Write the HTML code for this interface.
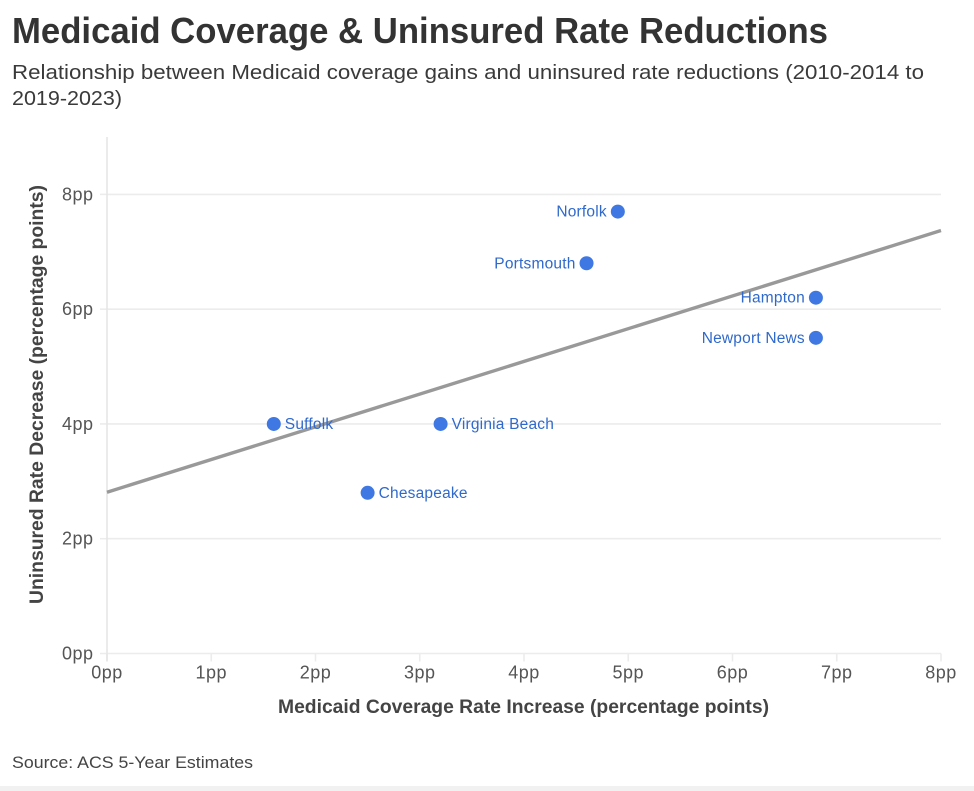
<!DOCTYPE html>
<html lang="en">
<head>
<meta charset="utf-8">
<title>Medicaid Coverage &amp; Uninsured Rate Reductions</title>
<style>
html,body{margin:0;padding:0;background:#fff;width:974px;height:791px;overflow:hidden}
svg{display:block;font-family:"Liberation Sans",sans-serif}
</style>
</head>
<body>
<svg id="chart" width="974" height="791" viewBox="0 0 974 791" xmlns="http://www.w3.org/2000/svg">
  <rect width="974" height="791" fill="#fff"/>
  <rect y="786" width="974" height="5" fill="#f1f1f1"/>
  <text x="12" y="43" font-size="36" font-weight="700" fill="#333" textLength="816" lengthAdjust="spacingAndGlyphs">Medicaid Coverage &amp; Uninsured Rate Reductions</text>
  <text x="12" y="79" font-size="20" fill="#3a3a3a" textLength="912" lengthAdjust="spacingAndGlyphs">Relationship between Medicaid coverage gains and uninsured rate reductions (2010-2014 to</text>
  <text x="12" y="105" font-size="20" fill="#3a3a3a" textLength="110" lengthAdjust="spacingAndGlyphs">2019-2023)</text>
  <g id="grid"></g>
  <g id="x-axis"></g>
  <g id="y-axis"></g>
  <g id="trend"></g>
  <g id="points"></g>
  <text x="523.5" y="713" font-size="19" font-weight="700" fill="#444" text-anchor="middle" textLength="491" lengthAdjust="spacingAndGlyphs">Medicaid Coverage Rate Increase (percentage points)</text>
  <text transform="translate(43,394.5) rotate(-90)" font-size="19" font-weight="700" fill="#444" text-anchor="middle" textLength="419" lengthAdjust="spacingAndGlyphs">Uninsured Rate Decrease (percentage points)</text>
  <text x="12" y="768" font-size="17" fill="#444" textLength="241" lengthAdjust="spacingAndGlyphs">Source: ACS 5-Year Estimates</text>
</svg>
<script>
const cities = ["Suffolk", "Chesapeake", "Virginia Beach", "Portsmouth", "Norfolk", "Hampton", "Newport News"];
const medicaidIncrease = [1.6, 2.5, 3.2, 4.6, 4.9, 6.8, 6.8];
const uninsuredDecrease = [4.0, 2.8, 4.0, 6.8, 7.7, 6.2, 5.5];
const labelSides = ["right", "right", "right", "left", "left", "left", "left"];
const xTickValues = [0, 1, 2, 3, 4, 5, 6, 7, 8];
const yTickValues = [0, 2, 4, 6, 8];
const trendX = [0, 8];
const trendY = [2.81, 7.37];
const tickSuffix = "pp";

const NS = "http://www.w3.org/2000/svg";
const plot = {left: 107, right: 941, bottom: 653.5, top: 137};
const xDomainMax = 8;
const yDomainMax = 9;
function xScale(v) { return plot.left + (v / xDomainMax) * (plot.right - plot.left); }
function yScale(v) { return plot.bottom - (v / yDomainMax) * (plot.bottom - plot.top); }
function make(tag, attrs, parent) {
  const el = document.createElementNS(NS, tag);
  Object.keys(attrs).forEach(function (k) { el.setAttribute(k, attrs[k]); });
  parent.appendChild(el);
  return el;
}

const gridG = document.getElementById("grid");
const xAxisG = document.getElementById("x-axis");
const yAxisG = document.getElementById("y-axis");
const trendG = document.getElementById("trend");
const pointsG = document.getElementById("points");

yTickValues.forEach(function (v) {
  const y = yScale(v);
  const gl = make("line", {x1: plot.left, x2: plot.right, y1: y, y2: y, stroke: "#ececec", "stroke-width": 1.6}, gridG);
  
  
  const tick = make("line", {x1: plot.left - 7, x2: plot.left, y1: y, y2: y, stroke: "#ececec", "stroke-width": 1.6}, yAxisG);
  
  
  const label = make("text", {x: plot.left - 13.5, y: y + 6, "font-size": 18, "letter-spacing": 0.5, fill: "#555", "text-anchor": "end"}, yAxisG);
  
  
  label.textContent = v + tickSuffix;
});

const yDomainLine = make("line", {x1: plot.left, x2: plot.left, y1: plot.top, y2: plot.bottom + 8, stroke: "#e6e6e6", "stroke-width": 1.6}, yAxisG);



xTickValues.forEach(function (v) {
  const x = xScale(v);
  const tick = make("line", {x1: x, x2: x, y1: plot.bottom, y2: plot.bottom + 8, stroke: "#ececec", "stroke-width": 1.6}, xAxisG);
  
  
  const label = make("text", {x: x, y: plot.bottom + 25, "font-size": 18, "letter-spacing": 0.5, fill: "#555", "text-anchor": "middle"}, xAxisG);
  
  
  label.textContent = v + tickSuffix;
});

const trendLine = make("line", {x1: xScale(trendX[0]), y1: yScale(trendY[0]), x2: xScale(trendX[1]), y2: yScale(trendY[1]), stroke: "#999", "stroke-width": 3.4}, trendG);



cities.forEach(function (city, i) {
  const cx = xScale(medicaidIncrease[i]);
  const cy = yScale(uninsuredDecrease[i]);
  const dot = make("circle", {cx: cx, cy: cy, r: 7, fill: "#3f78e3"}, pointsG);
  
  
  const right = labelSides[i] === "right";
  const label = make("text", {
    x: right ? cx + 11 : cx - 11,
    y: cy + 5,
    "font-size": 15.5,
    "letter-spacing": 0.2,
    fill: "#2f69cc",
    "text-anchor": right ? "start" : "end"
  }, pointsG);
  
  
  label.textContent = city;
});
</script>
</body>
</html>
